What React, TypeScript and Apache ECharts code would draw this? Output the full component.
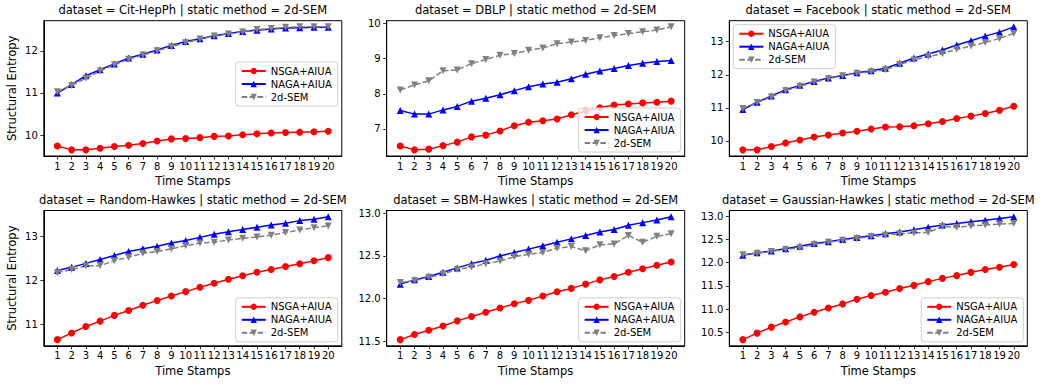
import React, { useEffect, useRef } from "react";
import * as echarts from "echarts";

const timeStamps = [1, 2, 3, 4, 5, 6, 7, 8, 9, 10, 11, 12, 13, 14, 15, 16, 17, 18, 19, 20];
const methodNames = ["NSGA+AIUA", "NAGA+AIUA", "2d-SEM"];
const datasetNames = ["Cit-HepPh", "DBLP", "Facebook", "Random-Hawkes", "SBM-Hawkes", "Gaussian-Hawkes"];

// Cit-HepPh
const citNSGA = [9.74, 9.65, 9.65, 9.69, 9.73, 9.76, 9.8, 9.86, 9.91, 9.92, 9.94, 9.97, 9.98, 10.01, 10.03, 10.05, 10.06, 10.07, 10.08, 10.09];
const citNAGA = [11.0, 11.2, 11.41, 11.55, 11.69, 11.83, 11.92, 12.02, 12.13, 12.22, 12.29, 12.36, 12.41, 12.46, 12.49, 12.52, 12.54, 12.55, 12.56, 12.56];
const citSEM = [11.03, 11.18, 11.35, 11.52, 11.67, 11.8, 11.9, 12.0, 12.1, 12.19, 12.28, 12.35, 12.4, 12.45, 12.51, 12.53, 12.56, 12.57, 12.57, 12.57];
// DBLP
const dblpNSGA = [6.51, 6.4, 6.42, 6.52, 6.62, 6.77, 6.82, 6.94, 7.09, 7.19, 7.23, 7.28, 7.4, 7.51, 7.6, 7.68, 7.71, 7.74, 7.76, 7.79];
const dblpNAGA = [7.52, 7.42, 7.42, 7.54, 7.64, 7.79, 7.87, 7.97, 8.09, 8.2, 8.28, 8.33, 8.43, 8.56, 8.65, 8.72, 8.81, 8.87, 8.92, 8.95];
const dblpSEM = [8.11, 8.25, 8.37, 8.66, 8.68, 8.86, 8.98, 9.1, 9.15, 9.24, 9.31, 9.43, 9.48, 9.52, 9.6, 9.66, 9.72, 9.77, 9.82, 9.91];
// Facebook
const fbNSGA = [9.73, 9.73, 9.83, 9.94, 10.03, 10.12, 10.18, 10.24, 10.29, 10.36, 10.42, 10.43, 10.46, 10.52, 10.59, 10.68, 10.75, 10.83, 10.93, 11.05];
const fbNAGA = [10.95, 11.17, 11.36, 11.55, 11.68, 11.8, 11.9, 11.98, 12.06, 12.12, 12.2, 12.35, 12.51, 12.63, 12.75, 12.9, 13.03, 13.17, 13.29, 13.45];
const fbSEM = [10.98, 11.16, 11.33, 11.52, 11.65, 11.78, 11.88, 11.97, 12.05, 12.09, 12.15, 12.31, 12.45, 12.55, 12.64, 12.77, 12.87, 12.98, 13.1, 13.25];
// Random-Hawkes
const rhNSGA = [10.65, 10.8, 10.95, 11.07, 11.2, 11.31, 11.43, 11.54, 11.64, 11.74, 11.84, 11.93, 12.02, 12.1, 12.18, 12.24, 12.31, 12.37, 12.44, 12.51];
const rhNAGA = [12.22, 12.29, 12.38, 12.47, 12.56, 12.65, 12.71, 12.77, 12.84, 12.9, 12.97, 13.04, 13.1, 13.15, 13.2, 13.25, 13.29, 13.35, 13.38, 13.44];
const rhSEM = [12.17, 12.24, 12.32, 12.33, 12.44, 12.52, 12.61, 12.65, 12.71, 12.78, 12.84, 12.86, 12.91, 12.95, 12.98, 13.02, 13.08, 13.14, 13.19, 13.23];
// SBM-Hawkes
const sbmNSGA = [11.52, 11.58, 11.63, 11.68, 11.74, 11.79, 11.84, 11.89, 11.94, 11.98, 12.03, 12.08, 12.12, 12.17, 12.22, 12.26, 12.31, 12.35, 12.39, 12.43];
const sbmNAGA = [12.17, 12.22, 12.26, 12.31, 12.36, 12.41, 12.45, 12.5, 12.54, 12.58, 12.62, 12.66, 12.7, 12.74, 12.78, 12.81, 12.86, 12.89, 12.92, 12.96];
const sbmSEM = [12.19, 12.21, 12.25, 12.29, 12.34, 12.37, 12.41, 12.44, 12.49, 12.52, 12.54, 12.59, 12.61, 12.56, 12.63, 12.64, 12.74, 12.66, 12.73, 12.76];
// Gaussian-Hawkes
const ghNSGA = [10.34, 10.48, 10.61, 10.72, 10.83, 10.93, 11.02, 11.11, 11.21, 11.29, 11.36, 11.44, 11.51, 11.59, 11.66, 11.72, 11.79, 11.85, 11.9, 11.96];
const ghNAGA = [12.16, 12.21, 12.25, 12.3, 12.35, 12.41, 12.45, 12.5, 12.54, 12.58, 12.62, 12.66, 12.71, 12.76, 12.81, 12.84, 12.88, 12.91, 12.95, 12.99];
const ghSEM = [12.17, 12.2, 12.24, 12.28, 12.32, 12.39, 12.44, 12.48, 12.52, 12.56, 12.59, 12.62, 12.64, 12.65, 12.78, 12.76, 12.79, 12.81, 12.83, 12.84];

// Y tick labels per panel
const citTicks = [10, 11, 12];
const dblpTicks = [7, 8, 9, 10];
const fbTicks = [10, 11, 12, 13];
const rhTicks = [11, 12, 13];
const sbmTicks = [11.5, 12.0, 12.5, 13.0];
const ghTicks = [10.5, 11.0, 11.5, 12.0, 12.5, 13.0];

const panelSeries = [
  [citNSGA, citNAGA, citSEM],
  [dblpNSGA, dblpNAGA, dblpSEM],
  [fbNSGA, fbNAGA, fbSEM],
  [rhNSGA, rhNAGA, rhSEM],
  [sbmNSGA, sbmNAGA, sbmSEM],
  [ghNSGA, ghNAGA, ghSEM],
];
const panelTicks = [citTicks, dblpTicks, fbTicks, rhTicks, sbmTicks, ghTicks];
const panelDecimals = [0, 0, 0, 0, 1, 1];

const W = 1047;
const H = 385;
const colLefts = [43.8, 386.7, 729.3];
const colWidth = 298;
const rowTops = [20.7, 210.5];
const rowHeight = 135.3;

const FONT = "DejaVu Sans";

function buildOption() {
  const grids: any[] = [];
  const xAxes: any[] = [];
  const yAxes: any[] = [];
  const series: any[] = [];
  const titles: any[] = [];
  const legends: any[] = [];

  const legendPos = [
    (l: number, t: number, w: number, h: number) => ({ right: W - (l + w) + 4, top: 62 }),
    (l: number, t: number, w: number, h: number) => ({ right: W - (l + w) + 4, bottom: H - (t + h) + 4 }),
    (l: number, t: number, w: number, h: number) => ({ left: l + 4, top: t + 4 }),
    (l: number, t: number, w: number, h: number) => ({ right: W - (l + w) + 4, bottom: H - (t + h) + 4 }),
    (l: number, t: number, w: number, h: number) => ({ right: W - (l + w) + 4, bottom: H - (t + h) + 4 }),
    (l: number, t: number, w: number, h: number) => ({ right: W - (l + w) + 4, bottom: H - (t + h) + 4 }),
  ];

  const colors = ["#ff0000", "#0000ff", "#808080"];

  for (let p = 0; p < 6; p++) {
    const col = p % 3;
    const row = Math.floor(p / 3);
    const left = colLefts[col];
    const top = rowTops[row];
    grids.push({
      left,
      top,
      width: colWidth,
      height: rowHeight,
      show: true,
      borderColor: "#000",
      borderWidth: 1,
      backgroundColor: "transparent",
      containLabel: false,
    });

    const all = ([] as number[]).concat(...panelSeries[p]);
    const mn = Math.min(...all);
    const mx = Math.max(...all);
    const pad = (mx - mn) * 0.05;
    const xPad = (timeStamps[timeStamps.length - 1] - timeStamps[0]) * 0.05;

    xAxes.push({
      type: "value",
      gridIndex: p,
      min: timeStamps[0] - xPad,
      max: timeStamps[timeStamps.length - 1] + xPad,
      splitLine: { show: false },
      axisLine: { show: true, onZero: false, lineStyle: { color: "#000", width: 1 } },
      axisTick: { show: true, length: 3.5, customValues: timeStamps, lineStyle: { color: "#000", width: 0.8 } },
      axisLabel: { customValues: timeStamps, color: "#000", fontSize: 10, fontFamily: FONT, margin: 5 },
      name: "Time Stamps",
      nameLocation: "middle",
      nameGap: 19,
      nameTextStyle: { fontSize: 11.5, color: "#000", fontFamily: FONT },
    });

    const dec = panelDecimals[p];
    yAxes.push({
      type: "value",
      gridIndex: p,
      min: mn - pad,
      max: mx + pad,
      splitLine: { show: false },
      axisLine: { show: true, onZero: false, lineStyle: { color: "#000", width: 1 } },
      axisTick: { show: true, length: 3.5, customValues: panelTicks[p], lineStyle: { color: "#000", width: 0.8 } },
      axisLabel: {
        customValues: panelTicks[p],
        color: "#000",
        fontSize: 10,
        fontFamily: FONT,
        margin: 6,
        formatter: (v: number) => v.toFixed(dec),
      },
      name: col === 0 ? "Structural Entropy" : "",
      nameLocation: "middle",
      nameGap: 26,
      nameTextStyle: { fontSize: 11.5, color: "#000", fontFamily: FONT },
    });

    titles.push({
      text: `dataset = ${datasetNames[p]} | static method = 2d-SEM`,
      left: left + colWidth / 2,
      top: top - 17,
      textAlign: "center",
      padding: 0,
      textStyle: { fontSize: 11.5, fontWeight: "normal", color: "#000", fontFamily: FONT },
    });

    legends.push({
      ...legendPos[p](left, top, colWidth, rowHeight),
      orient: "vertical",
      data: methodNames,
      itemWidth: 24,
      itemHeight: 8,
      itemGap: 3,
      padding: [4, 6, 4, 5],
      borderColor: "#d0d0d0",
      borderWidth: 1,
      borderRadius: 3,
      backgroundColor: "rgba(255,255,255,0.8)",
      textStyle: { fontSize: 10, color: "#000", fontFamily: FONT },
      selectedMode: false,
    });

    panelSeries[p].forEach((vals, m) => {
      series.push({
        type: "line",
        name: methodNames[m],
        xAxisIndex: p,
        yAxisIndex: p,
        data: timeStamps.map((t, i) => [t, vals[i]]),
        color: colors[m],
        symbol: m === 0 ? "circle" : "triangle",
        symbolRotate: m === 2 ? 180 : 0,
        symbolSize: 7,
        showSymbol: true,
        lineStyle: { width: 1.5, color: colors[m], type: m === 2 ? [5.5, 2.4] : "solid" },
        itemStyle: { color: colors[m] },
        emphasis: { disabled: true },
      });
    });
  }

  return {
    animation: false,
    backgroundColor: "#fff",
    textStyle: { fontFamily: FONT },
    title: titles,
    legend: legends,
    grid: grids,
    xAxis: xAxes,
    yAxis: yAxes,
    series,
  };
}

export default function App() {
  const ref = useRef<HTMLDivElement>(null);
  useEffect(() => {
    if (!ref.current) return;
    const chart = echarts.init(ref.current, undefined, { renderer: "svg" });
    chart.setOption(buildOption() as any);
    return () => chart.dispose();
  }, []);
  return (
    <div
      ref={ref}
      style={{ position: "absolute", left: 0, top: 0, width: W, height: H, background: "#fff" }}
    />
  );
}
